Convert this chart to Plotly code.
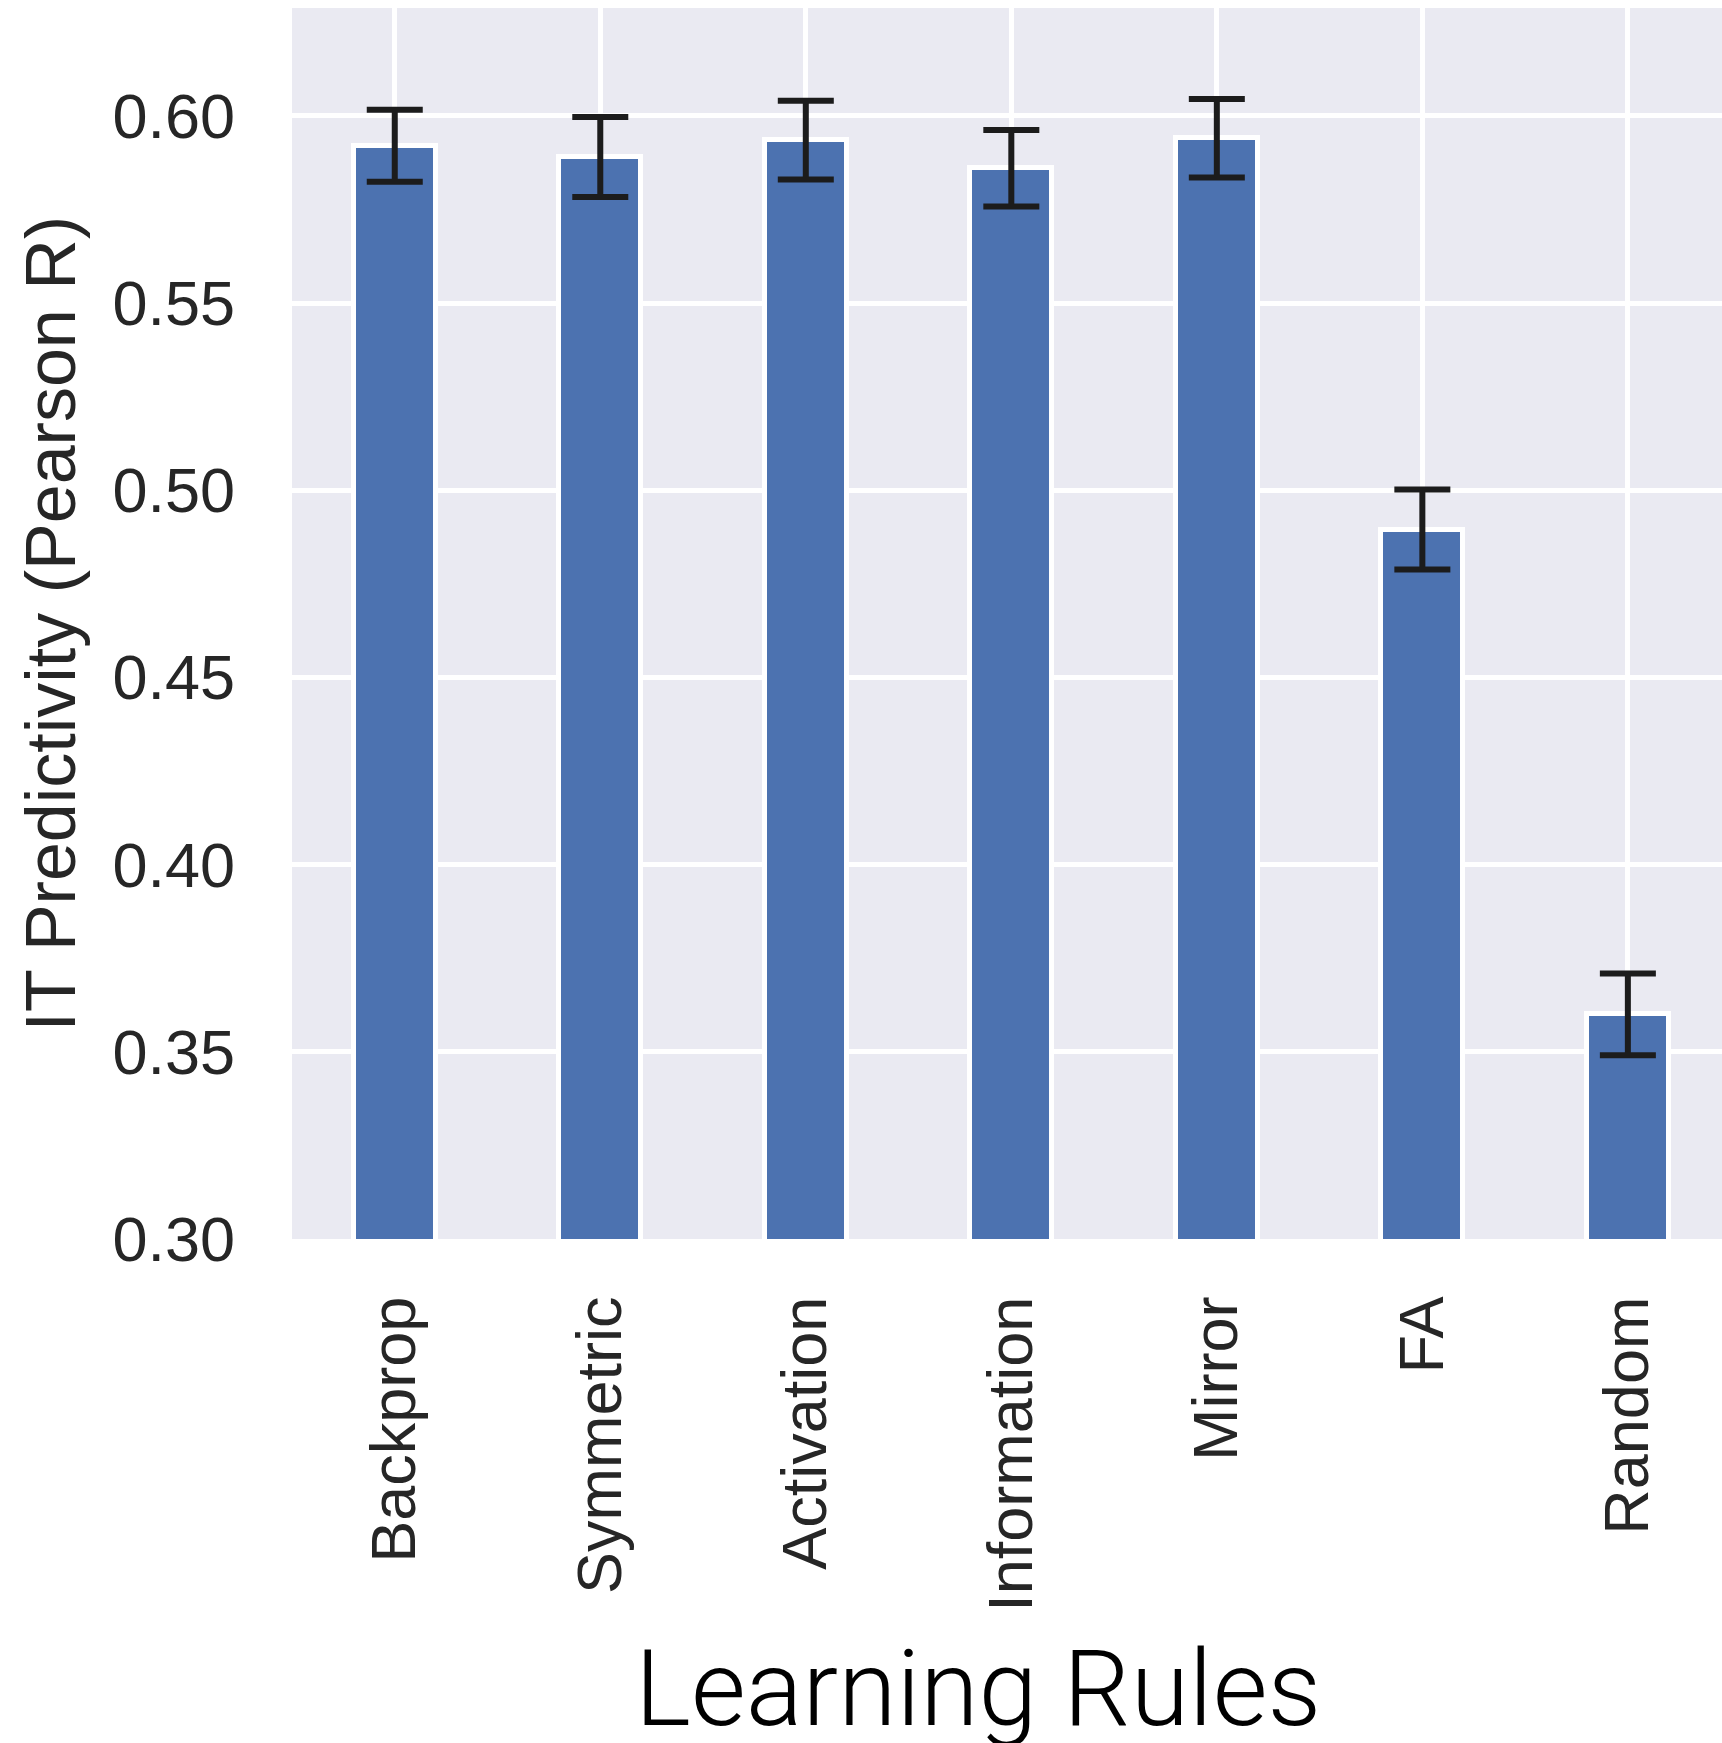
import plotly.graph_objects as go

# Learning rules and their IT predictivity (mean Pearson R with error)
rules = ["Backprop", "Symmetric", "Activation", "Information", "Mirror", "FA", "Random"]
pearson_r = [0.592, 0.589, 0.5935, 0.586, 0.594, 0.4895, 0.360]
pearson_err = [0.0096, 0.0107, 0.0105, 0.0102, 0.0105, 0.0107, 0.0109]
y_ticks = [0.30, 0.35, 0.40, 0.45, 0.50, 0.55, 0.60]

W, H = 1722, 1743
L, R, T, B = 292, 0, 8, 504

fig = go.Figure()
fig.add_trace(go.Bar(
    x=list(range(len(rules))),
    y=pearson_r,
    width=0.4,
    marker=dict(color="#4c72b0", line=dict(color="white", width=5)),
    error_y=dict(type="data", array=pearson_err, visible=True,
                 color="#1c1c1c", thickness=6, width=28),
))

fig.update_layout(
    width=W, height=H,
    margin=dict(l=L, r=R, t=T, b=B, pad=0),
    paper_bgcolor="white",
    plot_bgcolor="#eaeaf2",
    showlegend=False,
    bargap=0,
    font=dict(family="Liberation Sans, Arial, sans-serif", color="#262626"),
)

fig.update_xaxes(
    range=[-0.5, 6.458],
    tickmode="array",
    tickvals=list(range(len(rules))),
    ticktext=rules,
    tickangle=-90,
    tickfont=dict(size=63, color="#262626"),
    showgrid=True, gridcolor="white", gridwidth=5,
    zeroline=False, showline=False, ticks="",
    ticklabelstandoff=44,
)

fig.update_yaxes(
    range=[0.30, 0.6288],
    tickmode="array",
    tickvals=y_ticks,
    ticktext=[f"{v:.2f}" for v in y_ticks],
    tickfont=dict(size=63, color="#262626"),
    showgrid=True, gridcolor="white", gridwidth=5,
    zeroline=False, showline=False, ticks="",
    ticklabelstandoff=56,
)

plot_w = W - L - R
plot_h = H - T - B

# Axis titles placed as annotations in paper coordinates
fig.add_annotation(
    text="Learning Rules",
    xref="paper", yref="paper",
    x=(978 - L) / plot_w, y=-(1689 - (H - B)) / plot_h,
    xanchor="center", yanchor="middle",
    showarrow=False,
    font=dict(family="Roboto, Liberation Sans, sans-serif", size=106,
              color="black", weight=300),
)
fig.add_annotation(
    text="IT Predictivity (Pearson R)",
    xref="paper", yref="paper",
    x=(50 - L) / plot_w, y=0.5,
    xanchor="center", yanchor="middle",
    textangle=-90,
    showarrow=False,
    font=dict(size=70, color="#262626"),
)

fig.write_html("out.html")
